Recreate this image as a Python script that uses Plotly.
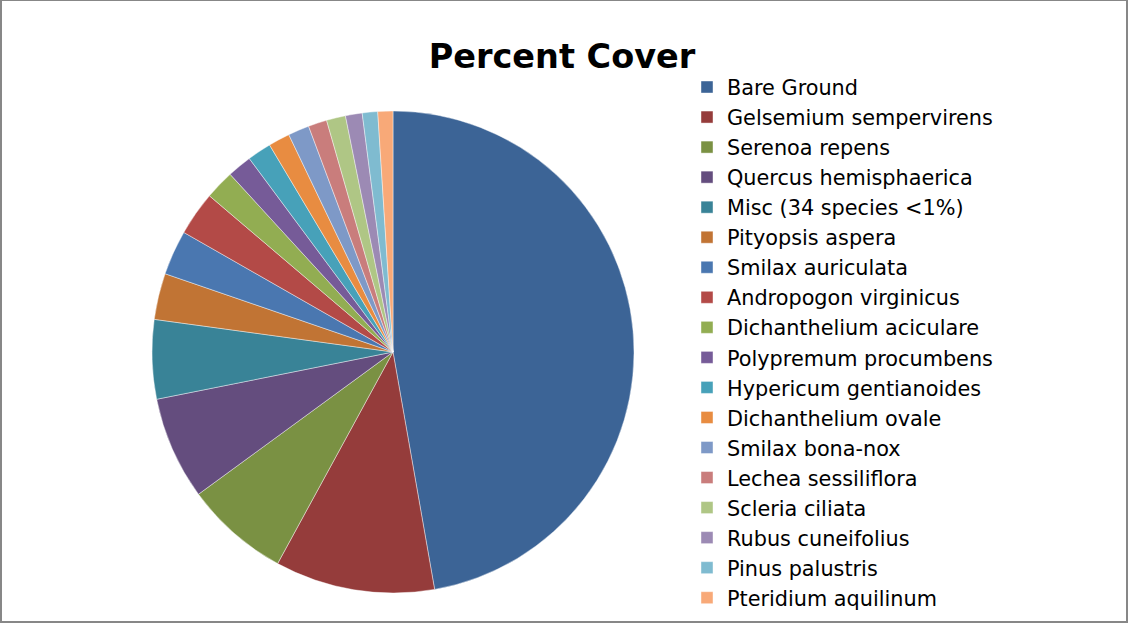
import plotly.graph_objects as go

species = [
    "Bare Ground", "Gelsemium sempervirens", "Serenoa repens", "Quercus hemisphaerica",
    "Misc (34 species <1%)", "Pityopsis aspera", "Smilax auriculata", "Andropogon virginicus",
    "Dichanthelium aciculare", "Polypremum procumbens", "Hypericum gentianoides",
    "Dichanthelium ovale", "Smilax bona-nox", "Lechea sessiliflora", "Scleria ciliata",
    "Rubus cuneifolius", "Pinus palustris", "Pteridium aquilinum",
]
cover = [47.2, 10.7, 7.0, 6.9, 5.3, 3.1, 3.0, 2.95, 1.97, 1.64, 1.61, 1.44, 1.42,
         1.25, 1.28, 1.12, 1.03, 1.01]
colors = [
    "#3C6496", "#953C3B", "#7A9143", "#644D7E", "#398397", "#C17434",
    "#4A77B0", "#B34A47", "#92AD52", "#765B98", "#47A1B9", "#E88C41",
    "#7E99C7", "#C97D7C", "#AFC685", "#9C8AB4", "#7FBBD0", "#F8A978",
]
title_text = "Percent Cover"

W, H = 1128, 623
fig = go.Figure(go.Pie(
    labels=species, values=cover, sort=False, direction="clockwise", rotation=0,
    textinfo="none", hoverinfo="label+percent",
    marker=dict(colors=colors, line=dict(color="rgba(255,255,255,0.7)", width=0.6)),
    domain=dict(x=[152 / W, 634 / W], y=[(H - 593) / H, (H - 111) / H]),
))
fig.update_layout(
    width=W, height=H, margin=dict(l=0, r=0, t=0, b=0),
    paper_bgcolor="white", plot_bgcolor="white",
    title=dict(text=title_text, x=562 / W, xanchor="center", y=1 - 56 / H, yanchor="middle",
               font=dict(family="DejaVu Sans", size=33.5, color="black", weight="bold")),
    legend=dict(x=687 / W, xanchor="left", y=1 - 67 / H, yanchor="top",
                font=dict(family="DejaVu Sans", size=20.8, color="black"),
                bgcolor="rgba(0,0,0,0)", borderwidth=0),
    shapes=[dict(type="rect", xref="paper", yref="paper", x0=1 / W, x1=1127 / W,
                 y0=1 / H, y1=1.0, line=dict(color="#878787", width=2))],
)
fig.write_html(
    "out.html",
    config={"displayModeBar": False},
    post_script="document.body.style.margin='0';document.body.style.overflow='hidden';",
)
